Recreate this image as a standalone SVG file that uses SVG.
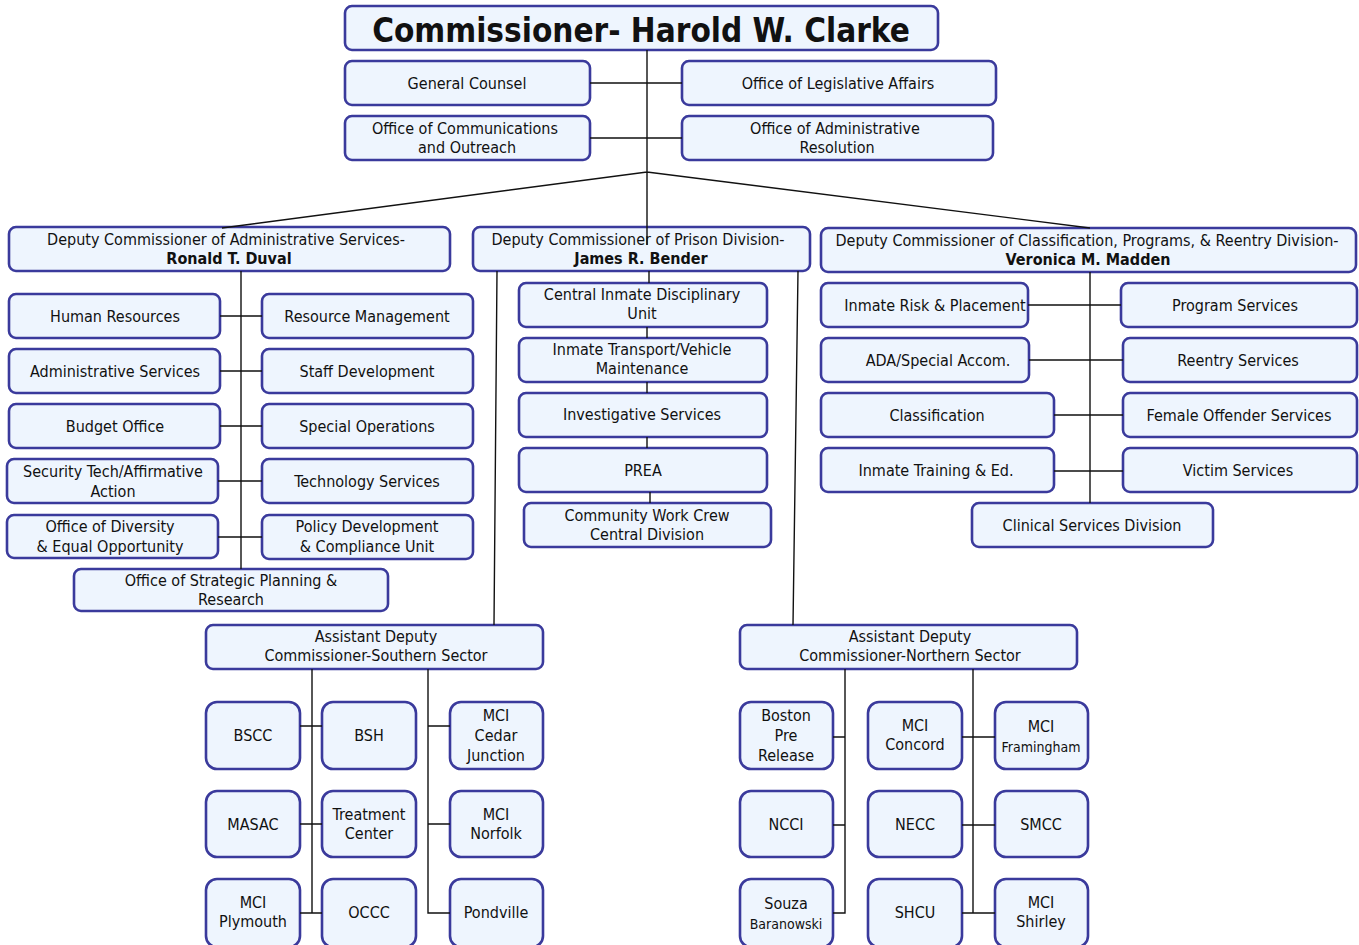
<svg xmlns="http://www.w3.org/2000/svg" width="1359" height="945" viewBox="0 0 1359 945">
<style>
.b{fill:#EEF5FE;stroke:#3A3A9C;stroke-width:2.6}
.t{font-family:"DejaVu Sans Condensed","DejaVu Sans",sans-serif;font-size:16px;text-anchor:middle;fill:#111}
.bd{font-weight:bold}
.s{font-size:14px}
.c{fill:none;stroke:#111;stroke-width:1.4}
</style>
<rect width="1359" height="945" fill="#fff"/>
<g id="n-commissioner"><rect class="b" x="345" y="6" width="593" height="44" rx="7"/><text class="t bd" x="641" y="42" style="font-size:33px">Commissioner- Harold W. Clarke</text></g>
<g id="n-gc"><rect class="b" x="345" y="61" width="245" height="44" rx="7"/><text class="t" x="467" y="89">General Counsel</text></g>
<g id="n-ola"><rect class="b" x="682" y="61" width="314" height="44" rx="7"/><text class="t" x="838" y="89">Office of Legislative Affairs</text></g>
<g id="n-occ"><rect class="b" x="345" y="116" width="245" height="44" rx="7"/><text class="t" x="465" y="134">Office of Communications</text><text class="t" x="467" y="153">and Outreach</text></g>
<g id="n-oar"><rect class="b" x="682" y="116" width="311" height="44" rx="7"/><text class="t" x="835" y="134">Office of Administrative</text><text class="t" x="837" y="153">Resolution</text></g>

<g id="n-dep-admin"><rect class="b" x="9" y="227" width="441" height="44" rx="7"/><text class="t" x="226" y="245">Deputy Commissioner of Administrative Services-</text><text class="t bd" x="229" y="264">Ronald T. Duval</text></g>
<g id="n-dep-prison"><rect class="b" x="473" y="227" width="337" height="44" rx="7"/><text class="t" x="638" y="245">Deputy Commissioner of Prison Division-</text><text class="t bd" x="641" y="264">James R. Bender</text></g>
<g id="n-dep-class"><rect class="b" x="821" y="228" width="535" height="44" rx="7"/><text class="t" x="1087" y="246">Deputy Commissioner of Classification, Programs, &amp; Reentry Division-</text><text class="t bd" x="1088" y="265">Veronica M. Madden</text></g>

<g id="n-hr"><rect class="b" x="9" y="294" width="211" height="44" rx="7"/><text class="t" x="115" y="322">Human Resources</text></g>
<g id="n-rm"><rect class="b" x="262" y="294" width="211" height="44" rx="7"/><text class="t" x="367" y="322">Resource Management</text></g>
<g id="n-as"><rect class="b" x="9" y="349" width="211" height="44" rx="7"/><text class="t" x="115" y="377">Administrative Services</text></g>
<g id="n-sd"><rect class="b" x="262" y="349" width="211" height="44" rx="7"/><text class="t" x="367" y="377">Staff Development</text></g>
<g id="n-bo"><rect class="b" x="9" y="404" width="211" height="44" rx="7"/><text class="t" x="115" y="432">Budget Office</text></g>
<g id="n-so"><rect class="b" x="262" y="404" width="211" height="44" rx="7"/><text class="t" x="367" y="432">Special Operations</text></g>
<g id="n-st"><rect class="b" x="7" y="459" width="211" height="44" rx="7"/><text class="t" x="113" y="477">Security Tech/Affirmative</text><text class="t" x="113" y="497">Action</text></g>
<g id="n-ts"><rect class="b" x="262" y="459" width="211" height="44" rx="7"/><text class="t" x="367" y="487">Technology Services</text></g>
<g id="n-od"><rect class="b" x="7" y="515" width="211" height="43" rx="7"/><text class="t" x="110" y="532">Office of Diversity</text><text class="t" x="110" y="552">&amp; Equal Opportunity</text></g>
<g id="n-pd"><rect class="b" x="262" y="515" width="211" height="44" rx="7"/><text class="t" x="367" y="532">Policy Development</text><text class="t" x="367" y="552">&amp; Compliance Unit</text></g>
<g id="n-sp"><rect class="b" x="74" y="569" width="314" height="42" rx="7"/><text class="t" x="231" y="586">Office of Strategic Planning &amp;</text><text class="t" x="231" y="605">Research</text></g>

<g id="n-cidu"><rect class="b" x="519" y="283" width="248" height="44" rx="7"/><text class="t" x="642" y="300">Central Inmate Disciplinary</text><text class="t" x="642" y="319">Unit</text></g>
<g id="n-it"><rect class="b" x="519" y="338" width="248" height="44" rx="7"/><text class="t" x="642" y="355">Inmate Transport/Vehicle</text><text class="t" x="642" y="374">Maintenance</text></g>
<g id="n-is"><rect class="b" x="519" y="393" width="248" height="44" rx="7"/><text class="t" x="642" y="420">Investigative Services</text></g>
<g id="n-prea"><rect class="b" x="519" y="448" width="248" height="44" rx="7"/><text class="t" x="643" y="476">PREA</text></g>
<g id="n-cwc"><rect class="b" x="524" y="503" width="247" height="44" rx="7"/><text class="t" x="647" y="521">Community Work Crew</text><text class="t" x="647" y="540">Central Division</text></g>

<g id="n-irp"><rect class="b" x="821" y="283" width="207" height="44" rx="7"/><text class="t" x="935" y="311">Inmate Risk &amp; Placement</text></g>
<g id="n-ps"><rect class="b" x="1121" y="283" width="236" height="44" rx="7"/><text class="t" x="1235" y="311">Program Services</text></g>
<g id="n-ada"><rect class="b" x="821" y="338" width="208" height="44" rx="7"/><text class="t" x="938" y="366">ADA/Special Accom.</text></g>
<g id="n-rs"><rect class="b" x="1123" y="338" width="234" height="44" rx="7"/><text class="t" x="1238" y="366">Reentry Services</text></g>
<g id="n-cl"><rect class="b" x="821" y="393" width="233" height="44" rx="7"/><text class="t" x="937" y="421">Classification</text></g>
<g id="n-fos"><rect class="b" x="1123" y="393" width="234" height="44" rx="7"/><text class="t" x="1239" y="421">Female Offender Services</text></g>
<g id="n-ite"><rect class="b" x="821" y="448" width="233" height="44" rx="7"/><text class="t" x="936" y="476">Inmate Training &amp; Ed.</text></g>
<g id="n-vs"><rect class="b" x="1123" y="448" width="234" height="44" rx="7"/><text class="t" x="1238" y="476">Victim Services</text></g>
<g id="n-csd"><rect class="b" x="972" y="503" width="241" height="44" rx="7"/><text class="t" x="1092" y="531">Clinical Services Division</text></g>

<g id="n-south"><rect class="b" x="206" y="625" width="337" height="44" rx="7"/><text class="t" x="376" y="642">Assistant Deputy</text><text class="t" x="376" y="661">Commissioner-Southern Sector</text></g>
<g id="n-north"><rect class="b" x="740" y="625" width="337" height="44" rx="7"/><text class="t" x="910" y="642">Assistant Deputy</text><text class="t" x="910" y="661">Commissioner-Northern Sector</text></g>

<g id="n-bscc"><rect class="b" x="206" y="702" width="94" height="67" rx="11"/><text class="t" x="253" y="741">BSCC</text></g>
<g id="n-bsh"><rect class="b" x="322" y="702" width="94" height="67" rx="11"/><text class="t" x="369" y="741">BSH</text></g>
<g id="n-mcicj"><rect class="b" x="450" y="702" width="93" height="67" rx="11"/><text class="t" x="496" y="721">MCI</text><text class="t" x="496" y="741">Cedar</text><text class="t" x="496" y="761">Junction</text></g>
<g id="n-masac"><rect class="b" x="206" y="791" width="94" height="66" rx="11"/><text class="t" x="253" y="830">MASAC</text></g>
<g id="n-tc"><rect class="b" x="322" y="791" width="94" height="66" rx="11"/><text class="t" x="369" y="820">Treatment</text><text class="t" x="369" y="839">Center</text></g>
<g id="n-mcin"><rect class="b" x="450" y="791" width="93" height="66" rx="11"/><text class="t" x="496" y="820">MCI</text><text class="t" x="496" y="839">Norfolk</text></g>
<g id="n-mcip"><rect class="b" x="206" y="879" width="94" height="68" rx="11"/><text class="t" x="253" y="908">MCI</text><text class="t" x="253" y="927">Plymouth</text></g>
<g id="n-occc"><rect class="b" x="322" y="879" width="94" height="68" rx="11"/><text class="t" x="369" y="918">OCCC</text></g>
<g id="n-pond"><rect class="b" x="450" y="879" width="93" height="68" rx="11"/><text class="t" x="496" y="918">Pondville</text></g>

<g id="n-bpr"><rect class="b" x="740" y="702" width="93" height="67" rx="11"/><text class="t" x="786" y="721">Boston</text><text class="t" x="786" y="741">Pre</text><text class="t" x="786" y="761">Release</text></g>
<g id="n-mcic"><rect class="b" x="868" y="702" width="94" height="67" rx="11"/><text class="t" x="915" y="731">MCI</text><text class="t" x="915" y="750">Concord</text></g>
<g id="n-mcif"><rect class="b" x="995" y="702" width="93" height="67" rx="11"/><text class="t" x="1041" y="732">MCI</text><text class="t s" x="1041" y="752">Framingham</text></g>
<g id="n-ncci"><rect class="b" x="740" y="791" width="93" height="66" rx="11"/><text class="t" x="786" y="830">NCCI</text></g>
<g id="n-necc"><rect class="b" x="868" y="791" width="94" height="66" rx="11"/><text class="t" x="915" y="830">NECC</text></g>
<g id="n-smcc"><rect class="b" x="995" y="791" width="93" height="66" rx="11"/><text class="t" x="1041" y="830">SMCC</text></g>
<g id="n-sb"><rect class="b" x="740" y="879" width="93" height="68" rx="11"/><text class="t" x="786" y="909">Souza</text><text class="t s" x="786" y="929">Baranowski</text></g>
<g id="n-shcu"><rect class="b" x="868" y="879" width="94" height="68" rx="11"/><text class="t" x="915" y="918">SHCU</text></g>
<g id="n-mcis"><rect class="b" x="995" y="879" width="93" height="68" rx="11"/><text class="t" x="1041" y="908">MCI</text><text class="t" x="1041" y="927">Shirley</text></g>

<g id="connectors" class="c">
<path class="c" d="M647 50V172M590 83H682M590 138H682M222 228L647 172L1090 228M647 172V245"/>
<path class="c" d="M241 271V569M220 316H262M220 371H262M220 426H262M218 481H262M218 537H262"/>
<path class="c" d="M649 271V283M647 327V338M647 382V393M647 437V448M650 492V503M497 271L494 625M798 271L793 625"/>
<path class="c" d="M1090 272V503M1028 305H1121M1029 360H1123M1054 415H1123M1054 471H1123"/>
<path class="c" d="M312 669V913M300 726H322M300 824H322M300 913H322M428 669V913H450M428 726H450M428 824H450"/>
<path class="c" d="M845 669V913H833M833 737H845M833 825H845M973 669V913M962 737H995M962 825H995M962 913H995"/>
</g>
</svg>
